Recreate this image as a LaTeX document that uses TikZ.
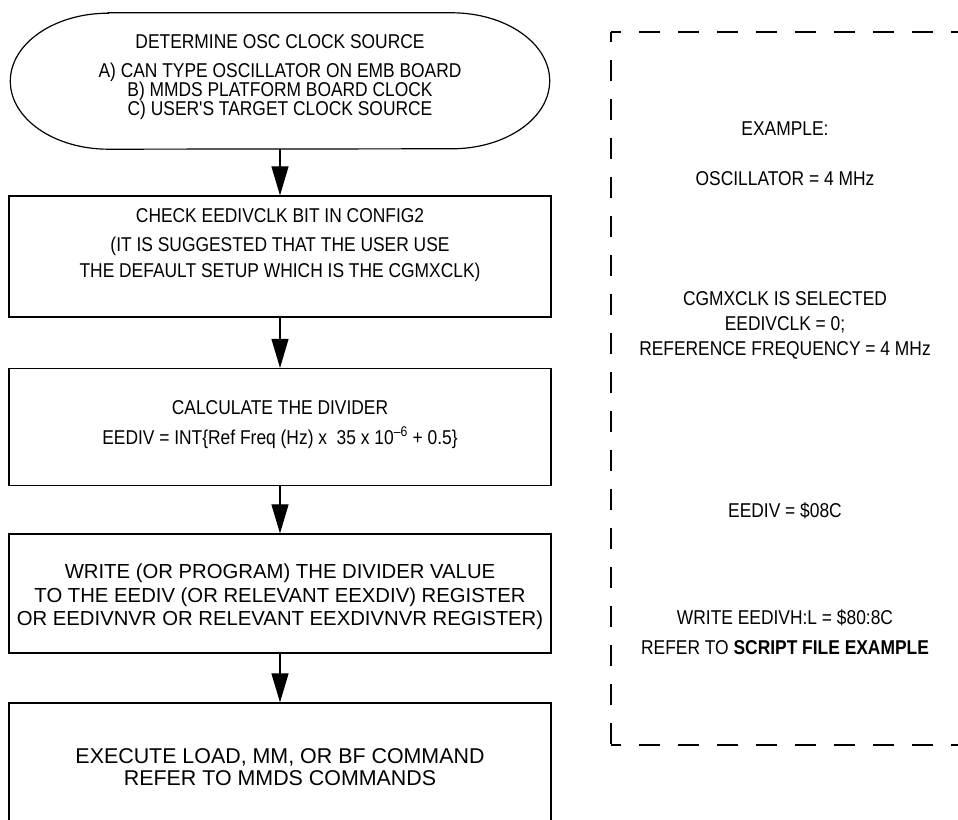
\documentclass[tikz,border=0pt]{standalone}
\usepackage{fontspec}
\setmainfont{Liberation Sans}
\newfontfamily\condfont[FakeStretch=0.87]{Liberation Sans}
\usetikzlibrary{arrows.meta}
\begin{document}
\begin{tikzpicture}[x=1pt,y=1pt,
  line/.style={line width=1.2pt},
  boxnode/.style={draw, line width=1.2pt, minimum width=542pt, inner sep=0pt},
  flow/.style={line width=1.2pt, -{Triangle[length=29pt,width=17pt]}},
  ctext/.style={anchor=base, inner sep=0pt, font=\condfont\fontsize{20}{20}\selectfont},
  wtext/.style={anchor=base, inner sep=0pt, font=\fontsize{20.3}{20}\selectfont},
  xtext/.style={anchor=base, inner sep=0pt, font=\fontsize{21.4}{21}\selectfont},
  dashline/.style={line width=1.2pt, dash pattern=on 21pt off 18pt, dash phase=11pt}]
\useasboundingbox (0,0) rectangle (958,819);
% start terminator
\node[minimum width=539pt, minimum height=136pt, inner sep=0pt] (e) at (280,738) {};
\draw[line] ([xshift=98pt]e.north west) -- ([xshift=-98pt]e.north east)
  arc[start angle=90, end angle=-90, x radius=98pt, y radius=68pt]
  -- ([xshift=98pt]e.south west)
  arc[start angle=270, end angle=90, x radius=98pt, y radius=68pt] -- cycle;
\node[ctext] (e1) at (280,770.8) {DETERMINE OSC CLOCK SOURCE};
\node[ctext] (e2) at (280,741.8) {A) CAN TYPE OSCILLATOR ON EMB BOARD};
\node[ctext] (e3) at (280,722.8) {B) MMDS PLATFORM BOARD CLOCK};
\node[ctext] (e4) at (280,703.8) {C) USER'S TARGET CLOCK SOURCE};
% boxes
\node[boxnode, minimum height=121pt] (b2) at (280,562.5) {};
\node[ctext] (b2a) at (280,596.8) {CHECK EEDIVCLK BIT IN CONFIG2};
\node[ctext] (b2b) at (280,567.8) {(IT IS SUGGESTED THAT THE USER USE};
\node[ctext] (b2c) at (280,541.8) {THE DEFAULT SETUP WHICH IS THE CGMXCLK)};
\node[boxnode, minimum height=117pt] (b3) at (280,392) {};
\node[ctext] (b3a) at (280,404.8) {CALCULATE THE DIVIDER};
\node[ctext] (b3b) at (280,374.8) {EEDIV = INT\{Ref Freq (Hz) x\ \ 35 x 10\textsuperscript{–6} + 0.5\}};
\node[boxnode, minimum height=119pt] (b4) at (280,225.5) {};
\node[wtext] (b4a) at (280,240.7) {WRITE (OR PROGRAM) THE DIVIDER VALUE};
\node[wtext] (b4b) at (280,216.7) {TO THE EEDIV (OR RELEVANT EEXDIV) REGISTER};
\node[wtext] (b4c) at (280,193.7) {OR EEDIVNVR OR RELEVANT EEXDIVNVR REGISTER)};
\node[boxnode, minimum height=119pt] (b5) at (280,56.5) {};
\node[xtext] (b5a) at (280,55.3) {EXECUTE LOAD, MM, OR BF COMMAND};
\node[xtext] (b5b) at (280,33.3) {REFER TO MMDS COMMANDS};
% connectors
\draw[flow] (e.south) -- (b2.north);
\draw[flow] (b2.south) -- (b3.north);
\draw[flow] (b3.south) -- (b4.north);
\draw[flow] (b4.south) -- (b5.north);
% example panel
\coordinate (tl) at (611,787);
\coordinate (bl) at (611,74);
\coordinate (tr) at (962,787);
\coordinate (br) at (962,74);
\draw[dashline] (tl) -- (tr);
\draw[dashline] (bl) -- (br);
\draw[dashline] (tl) -- (bl);
\node[ctext] (x1) at (785,683.8) {EXAMPLE:};
\node[ctext] (x2) at (785,633.8) {OSCILLATOR = 4 MHz};
\node[ctext] (x3) at (785,513.8) {CGMXCLK IS SELECTED};
\node[ctext] (x4) at (785,488.8) {EEDIVCLK = 0;};
\node[ctext] (x5) at (785,463.8) {REFERENCE FREQUENCY = 4 MHz};
\node[ctext] (x6) at (785,301.8) {EEDIV = \$08C};
\node[ctext] (x7) at (785,194.8) {WRITE EEDIVH:L = \$80:8C};
\node[ctext] (x8) at (785,164.8) {REFER TO \textbf{SCRIPT FILE EXAMPLE}};
\end{tikzpicture}
\end{document}
